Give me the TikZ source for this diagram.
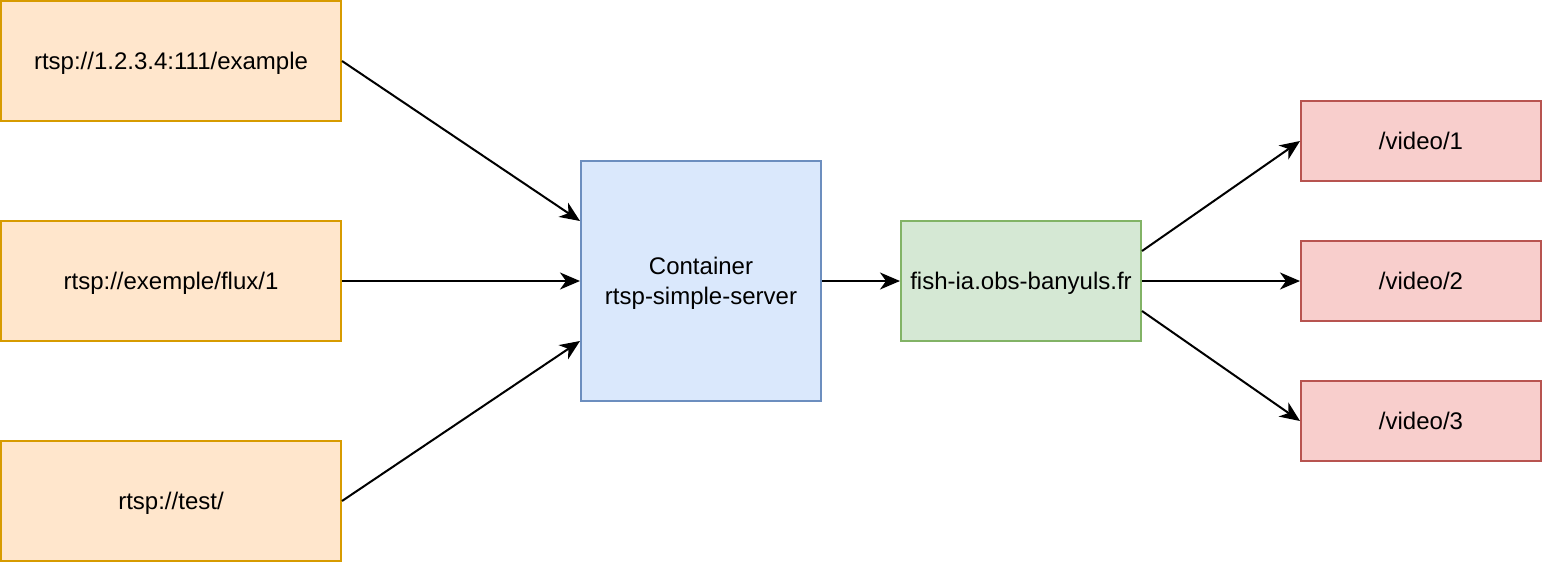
\documentclass[tikz,border=0pt]{standalone}
\usepackage{fontspec}
\setmainfont{Liberation Sans}
\usetikzlibrary{arrows.meta}
\definecolor{orfill}{HTML}{FFE6CC}\definecolor{ordraw}{HTML}{D79B00}
\definecolor{blfill}{HTML}{DAE8FC}\definecolor{bldraw}{HTML}{6C8EBF}
\definecolor{grfill}{HTML}{D5E8D4}\definecolor{grdraw}{HTML}{82B366}
\definecolor{rdfill}{HTML}{F8CECC}\definecolor{rddraw}{HTML}{B85450}
\tikzset{
  box/.style={rectangle, line width=2pt, inner sep=0pt, align=center,
    font=\fontsize{24}{30}\selectfont, text depth=1pt},
  srcbox/.style={box, fill=orfill, draw=ordraw, minimum width=340pt, minimum height=120pt},
  srvbox/.style={box, fill=blfill, draw=bldraw, minimum width=240pt, minimum height=240pt},
  hostbox/.style={box, fill=grfill, draw=grdraw, minimum width=240pt, minimum height=120pt},
  outbox/.style={box, fill=rdfill, draw=rddraw, minimum width=240pt, minimum height=80pt},
  conn/.style={line width=2pt, -{Stealth[length=20pt,width=17pt,inset=6pt]}}
}
\begin{document}
\begin{tikzpicture}[x=1pt,y=-1pt]
\useasboundingbox (0,0) rectangle (1542,562);
\node[srcbox] (a) at (171,61) {rtsp://1.2.3.4:111/example};
\node[srcbox] (b) at (171,281) {rtsp://exemple/flux/1};
\node[srcbox] (c) at (171,501) {rtsp://test/};
\node[srvbox] (srv) at (701,281) {Container\\rtsp-simple-server};
\node[hostbox] (host) at (1021,281) {fish-ia.obs-banyuls.fr};
\node[outbox] (v1) at (1421,141) {/video/1};
\node[outbox] (v2) at (1421,281) {/video/2};
\node[outbox] (v3) at (1421,421) {/video/3};
\coordinate (srvin1) at ([yshift=60pt]srv.west);
\coordinate (srvin3) at ([yshift=-60pt]srv.west);
\coordinate (hostout1) at ([yshift=30pt]host.east);
\coordinate (hostout3) at ([yshift=-30pt]host.east);
\draw[conn] (a.east) -- (srvin1);
\draw[conn] (b.east) -- (srv.west);
\draw[conn] (c.east) -- (srvin3);
\draw[conn] (srv.east) -- (host.west);
\draw[conn] (hostout1) -- (v1.west);
\draw[conn] (host.east) -- (v2.west);
\draw[conn] (hostout3) -- (v3.west);
\end{tikzpicture}
\end{document}
